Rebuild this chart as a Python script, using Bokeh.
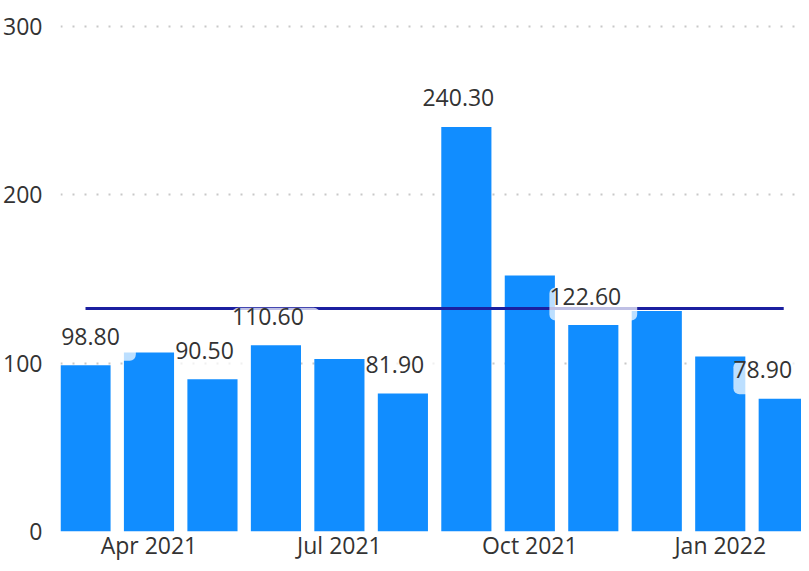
from bokeh.plotting import figure
from bokeh.models import ColumnDataSource, FixedTicker, Range1d
from bokeh.core.properties import value
from bokeh.embed import file_html
from bokeh.resources import INLINE

# ---- data ----
months = ["Mar 2021", "Apr 2021", "May 2021", "Jun 2021", "Jul 2021", "Aug 2021",
          "Sep 2021", "Oct 2021", "Nov 2021", "Dec 2021", "Jan 2022", "Feb 2022"]
values = [98.8, 106.3, 90.5, 110.6, 102.4, 81.9, 240.3, 152.1, 122.6, 131.0, 104.0, 78.9]
labeled = [True, False, True, True, False, True, True, False, True, False, False, True]
reference_value = 132.4
x_tick_labels = ["Apr 2021", "Jul 2021", "Oct 2021", "Jan 2022"]
y_ticks = [0, 100, 200, 300]

FONT = value("Open Sans")
BAR = "#118DFF"
LINE = "#1B1FA0"
TXT = "#333333"

idx = list(range(len(months)))
bars = ColumnDataSource(dict(x=idx, top=values))

first, last = 0, len(months) - 1


def label_source(keep):
    sel = [i for i in idx if labeled[i] and keep(i)]
    return ColumnDataSource(dict(x=sel, y=[values[i] for i in sel],
                                 t=["%.2f" % values[i] for i in sel]))


lab_main = label_source(lambda i: i not in (first, last))
lab_first = label_source(lambda i: i == first)
lab_last = label_source(lambda i: i == last)

p = figure(width=801, height=563, output_backend="svg", toolbar_location=None,
           x_range=Range1d(-0.394, 11.28), y_range=Range1d(0, 315.4),
           min_border_left=60, min_border_right=0, min_border_top=0,
           min_border_bottom=28)
p.outline_line_color = None
p.background_fill_color = "white"
p.border_fill_color = "white"

p.vbar(x="x", top="top", width=0.79, source=bars, fill_color=BAR, line_color=None)

p.line(x=[idx[0], idx[-1]], y=[reference_value, reference_value],
       line_color=LINE, line_width=3)

common = dict(text_font=FONT, text_font_size="23px", text_color=TXT,
              text_align="center", text_baseline="middle", y_offset=-21,
              background_fill_color="white", background_fill_alpha=0.72,
              border_radius=6, padding=(0, 16, 0, 16))
p.text(x="x", y="y", text="t", source=lab_main, **common)
p.text(x="x", y="y", text="t", source=lab_first, x_offset=13, **common)
p.text(x="x", y="y", text="t", source=lab_last, x_offset=-13, **common)

# axes
p.xaxis.ticker = FixedTicker(ticks=[months.index(t) for t in x_tick_labels])
p.xaxis.major_label_overrides = {months.index(t): t for t in x_tick_labels}
p.yaxis.ticker = FixedTicker(ticks=y_ticks)
for ax in (p.xaxis[0], p.yaxis[0]):
    ax.axis_line_color = None
    ax.major_tick_line_color = None
    ax.minor_tick_line_color = None
    ax.major_tick_in = 0
    ax.major_tick_out = 0
    ax.minor_tick_in = 0
    ax.minor_tick_out = 0
    ax.major_label_text_font = "Open Sans"
    ax.major_label_text_font_size = "23px"
    ax.major_label_text_color = TXT
p.xaxis.major_label_standoff = -3
p.yaxis.major_label_standoff = 18

p.xgrid.grid_line_color = None
p.ygrid.grid_line_color = "#C8C8C8"
p.ygrid.grid_line_width = 2
p.ygrid.grid_line_dash = "2 10"

open("out.html", "w").write(file_html(p, INLINE))
